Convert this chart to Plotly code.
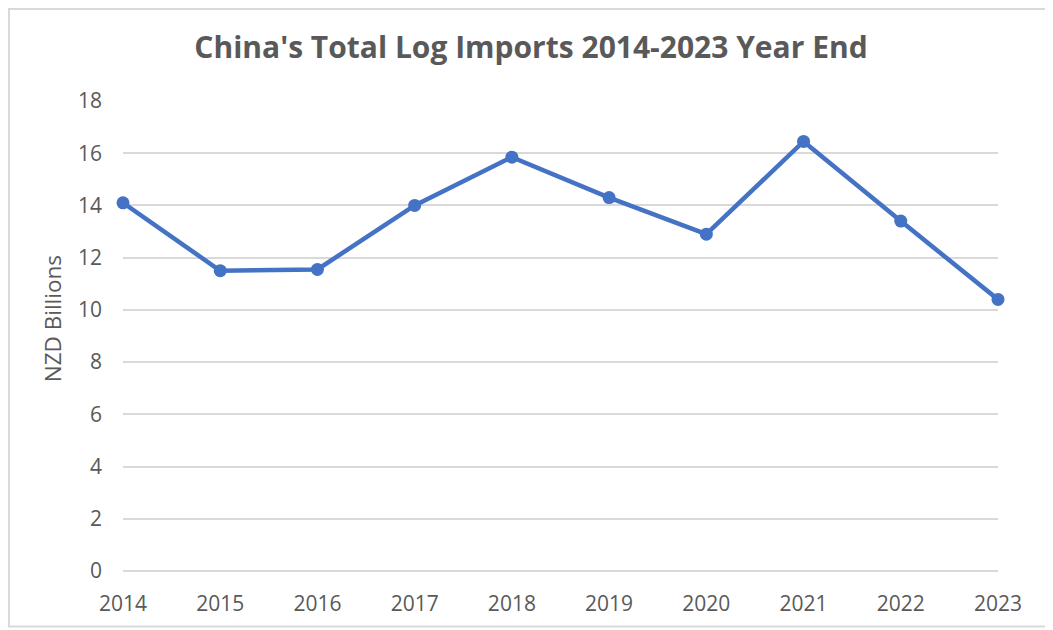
import plotly.graph_objects as go

years = [2014, 2015, 2016, 2017, 2018, 2019, 2020, 2021, 2022, 2023]
imports_nzd_bn = [14.1, 11.5, 11.55, 14.0, 15.85, 14.3, 12.9, 16.45, 13.4, 10.4]
y_ticks = [0, 2, 4, 6, 8, 10, 12, 14, 16, 18]

# page has an 8px body margin; figure coordinates are page coordinates minus 8
OFF = 8
W, H = 1053 - OFF, 630 - OFF
L, R, T, B = 123 - OFF, 998 - OFF, 101 - OFF, 571.5 - OFF

fig = go.Figure()
fig.add_trace(go.Scatter(
    x=years, y=imports_nzd_bn, mode="lines+markers",
    line=dict(color="#4472C4", width=4.5),
    marker=dict(color="#4472C4", size=13),
    cliponaxis=False, showlegend=False,
))

def px_x(p):
    return (p - L) / (R - L)

def px_y(p):
    return (B - p) / (B - T)

fig.add_shape(type="rect", xref="paper", yref="paper",
              x0=px_x(1), x1=px_x(1040), y0=px_y(619), y1=px_y(1),
              line=dict(color="#d9d9d9", width=2), layer="below")

fig.add_annotation(text="NZD Billions", xref="paper", yref="paper",
                   x=px_x(52 - OFF), y=px_y(319.5 - OFF),
                   xanchor="center", yanchor="middle", textangle=-90,
                   showarrow=False, font=dict(size=22.5, color="#595959", family="Open Sans"))

fig.update_layout(
    width=W, height=H,
    margin=dict(l=L, r=W - R, t=T, b=H - B),
    paper_bgcolor="white", plot_bgcolor="white",
    font=dict(family="Open Sans", color="#595959"),
    title=dict(text="<b>China's Total Log Imports 2014-2023 Year End</b>",
               x=(531 - OFF) / W, xanchor="center", y=1 - (47 - OFF) / H, yanchor="middle",
               font=dict(size=30, color="#595959", family="Open Sans")),
)
fig.update_xaxes(
    range=[2014, 2023], tickmode="array", tickvals=years,
    ticktext=[str(y) for y in years],
    showgrid=False, zeroline=False, showline=False,
    tickfont=dict(size=21, color="#595959"), ticklabelstandoff=18,
)
fig.update_yaxes(
    range=[0, 18], tickmode="array", tickvals=y_ticks,
    showgrid=True, gridcolor="#d9d9d9", gridwidth=1.5,
    zeroline=True, zerolinecolor="#d9d9d9", zerolinewidth=1.5,
    showline=False,
    tickfont=dict(size=21, color="#595959"), ticklabelstandoff=20,
)

fig.write_html("out.html")
